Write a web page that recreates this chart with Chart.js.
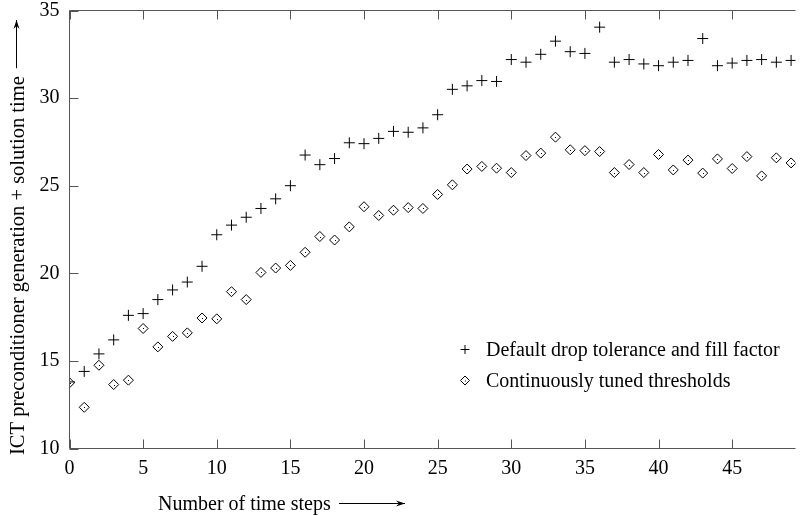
<!DOCTYPE html>
<html>
<head>
<meta charset="utf-8">
<script src="https://cdn.jsdelivr.net/npm/chart.js@4"></script>
<style>
  html, body { margin: 0; padding: 0; background: #fff; }
  #wrap { width: 802px; height: 516px; }
</style>
</head>
<body>
<div id="wrap"><canvas id="ictChart" width="802" height="516"></canvas></div>
<script>
// time steps 0..49
const steps = [];
for (let i = 0; i < 50; i++) steps.push(i);

const defaultDrop = [
  13.8, 14.4, 15.4, 16.2, 17.6, 17.7, 18.5, 19.05, 19.5, 20.4,
  22.2, 22.75, 23.2, 23.7, 24.25, 25.0, 26.75, 26.2, 26.55, 27.45,
  27.4, 27.7, 28.1, 28.05, 28.3, 29.05, 30.5, 30.7, 31.0, 30.95,
  32.2, 32.05, 32.5, 33.25, 32.65, 32.55, 34.05, 32.05, 32.2, 31.95,
  31.85, 32.05, 32.15, 33.4, 31.85, 32.0, 32.15, 32.2, 32.05, 32.15
];
const tunedThresholds = [
  13.75, 12.35, 14.75, 13.65, 13.9, 16.85, 15.8, 16.4, 16.6, 17.45,
  17.4, 18.95, 18.5, 20.05, 20.3, 20.45, 21.2, 22.1, 21.9, 22.65,
  23.8, 23.3, 23.6, 23.75, 23.7, 24.5, 25.05, 25.95, 26.1, 26.0,
  25.75, 26.72, 26.86, 27.77, 27.05, 27.0, 26.95, 25.75, 26.21, 25.75,
  26.78, 25.9, 26.46, 25.72, 26.53, 25.98, 26.66, 25.56, 26.59, 26.3
];
const seriesLabels = ['Default drop tolerance and fill factor', 'Continuously tuned thresholds'];
const xTickLabels = [0, 5, 10, 15, 20, 25, 30, 35, 40, 45];
const yTickLabels = [10, 15, 20, 25, 30, 35];
const xTitle = 'Number of time steps';
const yTitle = 'ICT preconditioner generation + solution time';

const FONT = '"Liberation Serif", "Times New Roman", serif';

function arrow(ctx, x1, y1, x2, y2){
  const a = Math.atan2(y2 - y1, x2 - x1);
  ctx.beginPath();
  ctx.moveTo(x1, y1); ctx.lineTo(x2, y2);
  ctx.stroke();
  ctx.beginPath();
  ctx.moveTo(x2, y2);
  ctx.lineTo(x2 - 9*Math.cos(a) + 3*Math.sin(a), y2 - 9*Math.sin(a) - 3*Math.cos(a));
  ctx.lineTo(x2 - 6*Math.cos(a), y2 - 6*Math.sin(a));
  ctx.lineTo(x2 - 9*Math.cos(a) - 3*Math.sin(a), y2 - 9*Math.sin(a) + 3*Math.cos(a));
  ctx.closePath();
  ctx.fill();
}

// no label overflow padding, the plot box is fixed
function fixPad(s){
  s.paddingTop = 0; s.paddingBottom = 0;
  s.paddingLeft = 0; s.paddingRight = 0;
}

const framePlugin = {
  id: 'frame',
  afterDatasetsDraw(chart){
    const ctx = chart.ctx, a = chart.chartArea;
    const xs = chart.scales.x, ys = chart.scales.y;
    ctx.save();
    ctx.strokeStyle = '#555';
    ctx.lineWidth = 1;
    // frame (right side falls off the picture)
    ctx.beginPath();
    ctx.moveTo(a.right, a.top); ctx.lineTo(a.left, a.top);
    ctx.lineTo(a.left, a.bottom); ctx.lineTo(a.right, a.bottom);
    ctx.stroke();
    // inward ticks
    ctx.beginPath();
    xTickLabels.forEach(v => {
      const px = Math.round(xs.getPixelForValue(v)) + 0.5;
      ctx.moveTo(px, a.bottom); ctx.lineTo(px, a.bottom - 9);
      ctx.moveTo(px, a.top); ctx.lineTo(px, a.top + 9);
    });
    yTickLabels.forEach(v => {
      const py = Math.round(ys.getPixelForValue(v)) + 0.5;
      ctx.moveTo(a.left, py); ctx.lineTo(a.left + 9, py);
    });
    ctx.stroke();

    // tiny centre dots of the diamonds
    ctx.fillStyle = '#000';
    chart.getDatasetMeta(1).data.forEach(p => {
      ctx.fillRect(Math.round(p.x), Math.round(p.y), 1, 1);
    });

    // legend inside the plot
    ctx.font = '20px ' + FONT;
    ctx.textBaseline = 'middle';
    ctx.textAlign = 'left';
    ctx.fillStyle = '#000';
    ctx.strokeStyle = '#000';
    ctx.lineWidth = 1;
    const lx = 465;
    const rows = [349.5, 380.5];
    ctx.beginPath();
    ctx.moveTo(lx - 4.5, rows[0]); ctx.lineTo(lx + 4.5, rows[0]);
    ctx.moveTo(lx, rows[0] - 4.5); ctx.lineTo(lx, rows[0] + 4.5);
    ctx.stroke();
    ctx.beginPath();
    ctx.moveTo(lx - 4.5, rows[1]); ctx.lineTo(lx, rows[1] - 4.5);
    ctx.lineTo(lx + 4.5, rows[1]); ctx.lineTo(lx, rows[1] + 4.5);
    ctx.closePath();
    ctx.stroke();
    ctx.fillRect(lx, rows[1], 1, 1);
    ctx.fillText(seriesLabels[0], 486, rows[0] + 1);
    ctx.fillText(seriesLabels[1], 486, rows[1] + 1);

    // axis titles with arrows
    ctx.textBaseline = 'alphabetic';
    ctx.fillText(xTitle, 158, 510);
    arrow(ctx, 339, 503.5, 405, 503.5);

    ctx.font = '20.5px ' + FONT;
    ctx.save();
    ctx.translate(24, 455);
    ctx.rotate(-Math.PI/2);
    ctx.fillText(yTitle, 0, 0);
    const tw = ctx.measureText(yTitle).width;
    ctx.restore();
    arrow(ctx, 16.5, 455 - tw - 8, 16.5, 20);
    ctx.restore();
  }
};

const ctx = document.getElementById('ictChart').getContext('2d');
const ictChart = new Chart(ctx, {
  type: 'scatter',
  data: {
    datasets: [
      {
        label: seriesLabels[0],
        data: steps.map((s, i) => ({ x: s, y: defaultDrop[i] })),
        pointStyle: 'cross',
        pointRadius: 5.5,
        pointBorderColor: '#000',
        pointBorderWidth: 1,
        pointBackgroundColor: '#000'
      },
      {
        label: seriesLabels[1],
        data: steps.map((s, i) => ({ x: s, y: tunedThresholds[i] })),
        pointStyle: 'rectRot',
        pointRadius: 5,
        pointBorderColor: '#000',
        pointBorderWidth: 1,
        pointBackgroundColor: 'rgba(255,255,255,0)'
      }
    ]
  },
  options: {
    responsive: false,
    animation: false,
    events: [],
    layout: { padding: { left: 0, right: 0, top: 10.5, bottom: 0 } },
    plugins: { legend: { display: false }, tooltip: { enabled: false } },
    scales: {
      x: {
        type: 'linear',
        min: 0,
        max: 49.3,
        afterBuildTicks: s => { s.ticks = xTickLabels.map(v => ({ value: v })); },
        afterFit: s => { s.height = 67.5; fixPad(s); },
        grid: { display: false, drawTicks: false },
        border: { display: false },
        ticks: { color: '#000', font: { family: FONT, size: 20 }, padding: 8, maxRotation: 0 }
      },
      y: {
        min: 10,
        max: 35,
        afterBuildTicks: s => { s.ticks = yTickLabels.map(v => ({ value: v })); },
        afterFit: s => { s.width = 69.5; fixPad(s); },
        grid: { display: false, drawTicks: false },
        border: { display: false },
        ticks: { color: '#000', font: { family: FONT, size: 20 }, padding: 10 }
      }
    }
  },
  plugins: [framePlugin]
});
</script>
</body>
</html>
